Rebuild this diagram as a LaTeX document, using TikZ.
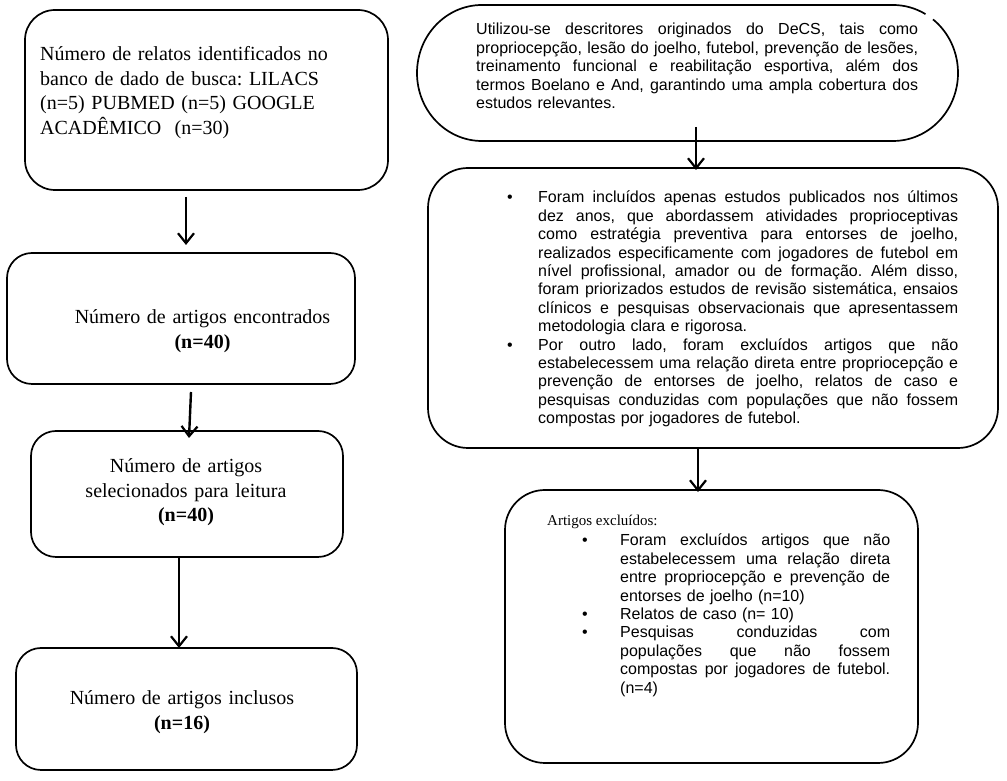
\documentclass[tikz,border=0pt]{standalone}
\usepackage{fontspec}
\setmainfont{Liberation Serif}
\newfontfamily\arialf{Liberation Sans}
\usetikzlibrary{arrows.meta}
\frenchspacing
\newcommand\fillsp{\spaceskip=\fontdimen2\font plus 1fil\relax\xspaceskip=\spaceskip}
\newcommand\bul[3]{\makebox[#1][l]{\textbullet}\makebox[#2][s]{\fillsp #3}}
\newcommand\bulL[2]{\makebox[#1][l]{\textbullet}#2}
\newcommand\jus[3]{\hspace*{#1}\makebox[#2][s]{\fillsp #3}}
\newcommand\lst[2]{\hspace*{#1}#2}
\begin{document}
\begin{tikzpicture}[x=1pt,y=1pt,
  box/.style={draw, line width=1.7pt, rounded corners=#1, inner sep=0pt},
  arr/.style={line width=2.4pt, -{Straight Barb[length=10pt,width=16pt,line width=2.2pt]}},
  tnr/.style={font=\frenchspacing\fontsize{20}{24.5}\selectfont, inner sep=0pt},
  ar/.style={font=\arialf\frenchspacing\fontsize{16}{18.4}\selectfont, inner sep=0pt}]
\useasboundingbox (0,0) rectangle (1007,781);

% left column boxes
\node[box=30pt, minimum width=363pt, minimum height=180pt] (A) at (206.5,681) {};
\node[box=25pt, minimum width=348pt, minimum height=131pt] (B) at (181,462.5) {};
\node[box=25pt, minimum width=312pt, minimum height=126pt] (C) at (187,287) {};
\node[box=25pt, minimum width=341pt, minimum height=122pt] (D) at (186.5,72) {};

\node[tnr, anchor=base west, text width=345pt, align=left] (At) at (40,720)
  {Número de relatos identificados no\\banco de dado de busca: LILACS\\(n=5) PUBMED (n=5) GOOGLE\\ACADÊMICO\ \ (n=30)};
\node[tnr, anchor=base, text width=340pt, align=center] (Bt) at (202.5,457)
  {Número de artigos encontrados\\\textbf{(n=40)}};
\node[tnr, anchor=base, text width=300pt, align=center] (Ct) at (186,308)
  {Número de artigos\\selecionados para leitura\\\textbf{(n=40)}};
\node[tnr, anchor=base, text width=330pt, align=center] (Dt) at (182,76)
  {Número de artigos inclusos\\\textbf{(n=16)}};

% right column
\draw[line width=1.7pt] (893,708) ++(52:65 and 68)
  arc[start angle=52, end angle=-90, x radius=65, y radius=68] -- (482,640)
  arc[start angle=270, end angle=90, x radius=65, y radius=68] -- (893,776)
  arc[start angle=90, end angle=60, x radius=65, y radius=68];
\node[ar, anchor=base west, text width=445pt, align=left] (Et) at (476,746)
  {\jus{0pt}{442pt}{Utilizou-se descritores originados do DeCS, tais como}\\
   \jus{0pt}{442pt}{propriocepção, lesão do joelho, futebol, prevenção de lesões,}\\
   \jus{0pt}{442pt}{treinamento funcional e reabilitação esportiva, além dos}\\
   \jus{0pt}{442pt}{termos Boelano e And, garantindo uma ampla cobertura dos}\\
   estudos relevantes.};

\node[box=40pt, minimum width=570pt, minimum height=280pt] (F) at (713,473) {};
\node[ar, anchor=base west, text width=455pt, align=left] (Ft) at (507,578)
  {\bul{31pt}{420pt}{Foram incluídos apenas estudos publicados nos últimos}\\
   \jus{31pt}{420pt}{dez anos, que abordassem atividades proprioceptivas}\\
   \jus{31pt}{420pt}{como estratégia preventiva para entorses de joelho,}\\
   \jus{31pt}{420pt}{realizados especificamente com jogadores de futebol em}\\
   \jus{31pt}{420pt}{nível profissional, amador ou de formação. Além disso,}\\
   \jus{31pt}{420pt}{foram priorizados estudos de revisão sistemática, ensaios}\\
   \jus{31pt}{420pt}{clínicos e pesquisas observacionais que apresentassem}\\
   \lst{31pt}{metodologia clara e rigorosa.}\\
   \bul{31pt}{420pt}{Por outro lado, foram excluídos artigos que não}\\
   \jus{31pt}{420pt}{estabelecessem uma relação direta entre propriocepção e}\\
   \jus{31pt}{420pt}{prevenção de entorses de joelho, relatos de caso e}\\
   \jus{31pt}{420pt}{pesquisas conduzidas com populações que não fossem}\\
   \lst{31pt}{compostas por jogadores de futebol.}};

\node[box=40pt, minimum width=413pt, minimum height=273pt] (G) at (711.5,154.5) {};
\node[font=\fontsize{15}{18}\selectfont, inner sep=0pt, anchor=base west] (Gh) at (547,255) {Artigos excluídos:};
\node[ar, anchor=base west, text width=320pt, align=left] (Gt) at (582,235)
  {\bul{38pt}{270pt}{Foram excluídos artigos que não}\\
   \jus{38pt}{270pt}{estabelecessem uma relação direta}\\
   \jus{38pt}{270pt}{entre propriocepção e prevenção de}\\
   \lst{38pt}{entorses de joelho (n=10)}\\
   \bulL{38pt}{Relatos de caso (n= 10)}\\
   \bul{38pt}{270pt}{Pesquisas conduzidas com}\\
   \jus{38pt}{270pt}{populações que não fossem}\\
   \jus{38pt}{270pt}{compostas por jogadores de futebol.}\\
   \lst{38pt}{(n=4)}};

% connectors
\coordinate (a1s) at (186,584); \coordinate (a1e) at (186,536);
\coordinate (a2s) at (191,389); \coordinate (a2e) at (189,343);
\coordinate (a3s) at (179,224); \coordinate (a3e) at (179,133);
\coordinate (a4s) at (696,654); \coordinate (a4e) at (696,611);
\coordinate (a5s) at (698,333); \coordinate (a5e) at (698,289);
\draw[arr] (a1s) -- (a1e);
\draw[arr] (a2s) -- (a2e);
\draw[arr] (a3s) -- (a3e);
\draw[arr] (a4s) -- (a4e);
\draw[arr] (a5s) -- (a5e);
\end{tikzpicture}
\end{document}
